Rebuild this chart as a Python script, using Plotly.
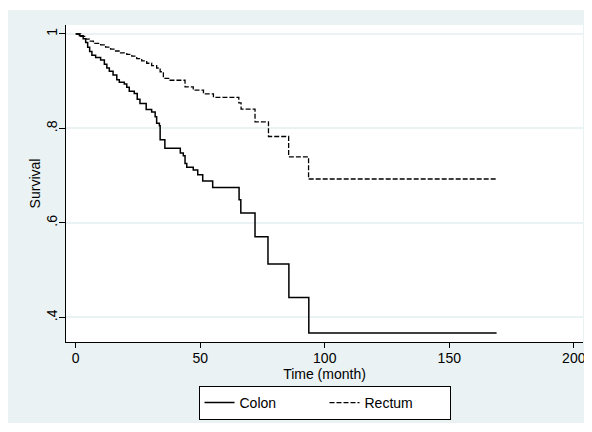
import plotly.graph_objects as go

# Kaplan-Meier step data (time in months, survival)
colon_t = [0, 1.5, 3.0, 4.0, 4.8, 5.6, 6.5, 8.0, 10.0, 11.5, 12.5, 13.5, 15.0, 16.5, 17.5,
           19.5, 20.5, 21.5, 23.5, 24.7, 25.8, 28.3, 30.5, 31.9, 32.5, 33.6, 33.9, 35.8,
           42.0, 43.2, 43.9, 44.6, 47.2, 49.0, 51.0, 55.0, 65.6, 66.3, 72.0, 77.2, 85.6,
           93.6, 169.0]
colon_s = [1.0, 0.996, 0.990, 0.982, 0.972, 0.963, 0.955, 0.950, 0.945, 0.936, 0.928, 0.921,
           0.913, 0.903, 0.898, 0.894, 0.887, 0.879, 0.874, 0.862, 0.853, 0.840, 0.835, 0.825,
           0.811, 0.806, 0.776, 0.758, 0.748, 0.742, 0.726, 0.718, 0.712, 0.702, 0.689, 0.675,
           0.649, 0.621, 0.571, 0.513, 0.442, 0.367, 0.367]

rectum_t = [0, 2.0, 4.0, 5.5, 7.1, 10.0, 12.0, 14.0, 16.0, 18.0, 20.5, 22.5, 24.5, 26.5,
            28.5, 30.5, 32.5, 33.9, 35.2, 37.9, 43.9, 47.2, 51.3, 55.3, 65.5, 66.4, 72.0,
            77.4, 85.5, 93.5, 169.0]
rectum_s = [1.0, 0.995, 0.989, 0.985, 0.980, 0.977, 0.972, 0.968, 0.964, 0.960, 0.957, 0.953,
            0.948, 0.943, 0.938, 0.933, 0.928, 0.920, 0.906, 0.902, 0.888, 0.881, 0.873, 0.866,
            0.854, 0.841, 0.814, 0.783, 0.740, 0.693, 0.693]

x_ticks = [0, 50, 100, 150, 200]
y_ticks = [0.4, 0.6, 0.8, 1.0]
y_ticktext = [".4", ".6", ".8", "1"]

FONT = "Liberation Sans, Arial, sans-serif"
BG = "#EAF2F3"

fig = go.Figure()
fig.add_trace(go.Scatter(x=colon_t, y=colon_s, mode="lines", name="Colon",
                         line=dict(shape="hv", color="black", width=1.5)))
fig.add_trace(go.Scatter(x=rectum_t, y=rectum_s, mode="lines", name="Rectum",
                         line=dict(shape="hv", color="black", width=1.3, dash="5px,2px")))

# figure is placed at page offset (8, 8) by the default body margin
W, H = 584, 415
L, R, T, B = 58, 9, 17, 81
pw, ph = W - L - R, H - T - B


def fy(py_fig):
    return (H - B - py_fig) / ph


# thin white strip at the very top (reference background starts 2px lower)
fig.add_shape(type="rect", xref="paper", yref="paper", layer="above",
              x0=-1, x1=2, y0=fy(2), y1=fy(-5), fillcolor="white", line=dict(width=0))

fig.update_layout(
    width=W, height=H,
    margin=dict(l=L, r=R, t=T, b=B, autoexpand=False),
    paper_bgcolor=BG,
    plot_bgcolor="white",
    font=dict(family=FONT, size=14, color="black"),
    showlegend=True,
    legend=dict(orientation="h", x=0.5, xanchor="center", y=fy(412), yanchor="bottom",
                bgcolor="white", bordercolor="black", borderwidth=1,
                font=dict(size=14), entrywidth=80, entrywidthmode="pixels"),
    xaxis=dict(range=[-3.9, 203.7], tickvals=x_ticks, showgrid=False, zeroline=False,
               showline=True, linecolor="black", linewidth=1,
               ticks="outside", ticklen=5, tickcolor="black", ticklabelstandoff=-2,
               ticklabeloverflow="allow",
               title=dict(text="Time (month)", standoff=0, font=dict(size=14)),
               automargin=False),
    yaxis=dict(range=[0.348, 1.019], tickvals=y_ticks, ticktext=y_ticktext, tickangle=-90,
               showgrid=True, gridcolor=BG, gridwidth=1.5, zeroline=False,
               showline=True, linecolor="black", linewidth=1,
               ticks="outside", ticklen=6, tickcolor="black", ticklabelstandoff=-4,
               title=dict(text="Survival", standoff=0, font=dict(size=14)),
               automargin=False),
)

fig.write_html("out.html",
               post_script="document.documentElement.style.overflow='hidden';")
